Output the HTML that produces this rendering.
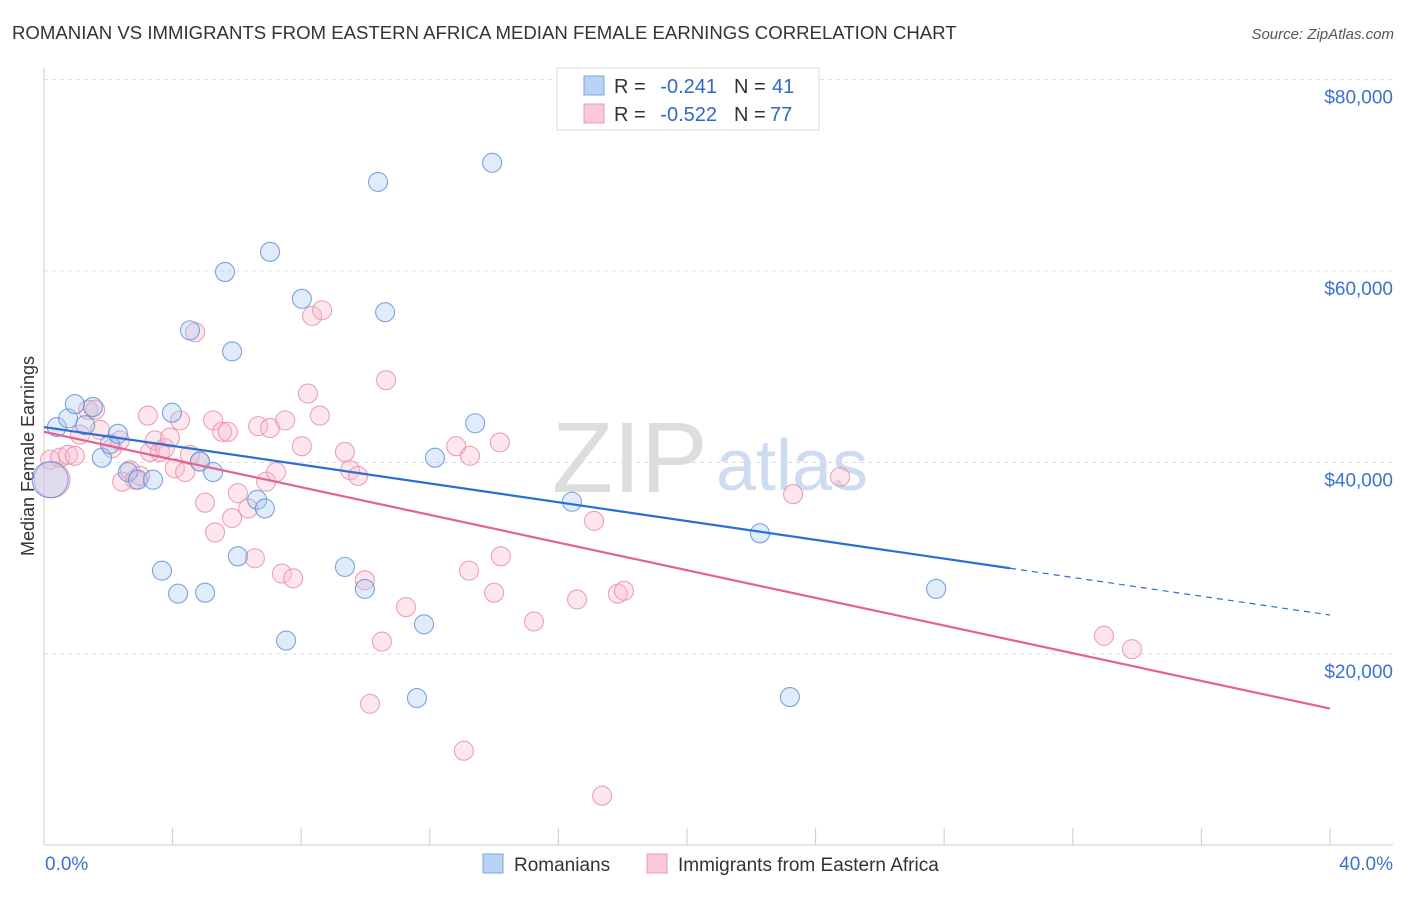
<!DOCTYPE html>
<html><head><meta charset="utf-8"><style>
body{margin:0;background:#fff;font-family:"Liberation Sans",sans-serif}
svg text{font-family:"Liberation Sans",sans-serif}
</style></head><body>
<svg id="c" width="1406" height="892" xmlns="http://www.w3.org/2000/svg">
<text x="12" y="39" font-size="18.6" fill="#333">ROMANIAN VS IMMIGRANTS FROM EASTERN AFRICA MEDIAN FEMALE EARNINGS CORRELATION CHART</text>
<text x="1394" y="39" font-size="15" fill="#555" text-anchor="end" font-style="italic">Source: ZipAtlas.com</text>
<text x="552" y="492" font-size="100" fill="#ddd" font-family="Liberation Serif,serif">ZIP</text>
<text x="716" y="490" font-size="72" fill="#cddcf0">atlas</text>
<text transform="translate(34,456) rotate(-90)" font-size="18" fill="#333" text-anchor="middle">Median Female Earnings</text>
<g id="grid"></g><g id="pts"></g><g id="lines"></g>
<g>
<rect x="557" y="68" width="262" height="62" fill="#fff" stroke="#ddd"/>
<rect x="584" y="76" width="20" height="19" fill="#b9d3f5" stroke="#7aa6e2"/>
<rect x="584" y="104" width="20" height="19" fill="#fbc8d7" stroke="#ee98b2"/>
<text x="614" y="93" font-size="20" fill="#333">R =</text>
<text x="717" y="93" font-size="20" fill="#3068c8" text-anchor="end">-0.241</text>
<text x="734" y="93" font-size="20" fill="#333">N =</text>
<text x="772" y="93" font-size="20" fill="#3068c8">41</text>
<text x="614" y="121" font-size="20" fill="#333">R =</text>
<text x="717" y="121" font-size="20" fill="#3068c8" text-anchor="end">-0.522</text>
<text x="734" y="121" font-size="20" fill="#333">N =</text>
<text x="770" y="121" font-size="20" fill="#3068c8">77</text>
</g>
<g>
<rect x="483" y="854" width="20" height="19" fill="#b9d3f5" stroke="#7aa6e2"/>
<text x="514" y="871" font-size="19" fill="#333">Romanians</text>
<rect x="647" y="854" width="20" height="19" fill="#fbc8d7" stroke="#ee98b2"/>
<text x="678" y="871" font-size="19" fill="#333">Immigrants from Eastern Africa</text>
</g>
</svg>
<script>
const blueX=[0.40,0.75,0.96,1.52,1.28,1.80,2.05,2.30,2.61,2.92,3.39,3.67,3.98,4.17,4.54,4.85,5.01,5.26,5.63,5.85,6.03,6.63,6.87,7.03,7.53,8.02,9.36,9.98,10.39,10.61,11.60,11.82,12.16,13.41,13.94,16.42,22.27,23.20,27.75,0.19];
const blueY=[43.7,44.6,46.1,45.8,43.9,40.5,41.9,43.0,39.0,38.2,38.2,28.7,45.2,26.3,53.8,40.1,26.4,39.0,59.9,51.6,30.2,36.1,35.2,62.0,21.4,57.1,29.1,26.8,69.3,55.7,15.4,23.1,40.5,44.1,71.3,35.9,32.6,15.5,26.8,38.2];
const pinkX=[0.19,0.50,0.75,0.96,1.12,1.37,1.59,1.74,2.12,2.36,2.43,2.67,2.83,2.99,3.23,3.30,3.45,3.61,3.76,3.92,4.07,4.23,4.39,4.54,4.70,4.85,5.01,5.26,5.32,5.54,5.72,5.85,6.03,6.35,6.56,6.66,6.91,7.03,7.22,7.40,7.50,7.75,8.02,8.21,8.34,8.58,8.65,9.36,9.52,9.77,9.98,10.14,10.51,10.64,11.26,12.82,13.06,13.22,13.25,14.00,14.18,14.21,15.24,16.58,17.11,17.36,17.85,18.04,23.30,24.76,32.97,33.84,0.25];
const pinkY=[40.3,40.5,40.8,40.7,42.9,45.5,45.5,43.4,41.5,42.3,38.0,39.2,38.2,38.6,44.9,41.1,42.3,41.1,41.5,42.6,39.4,44.4,39.0,40.8,53.6,40.1,35.8,44.4,32.7,43.2,43.2,34.2,36.8,35.2,30.0,43.8,38.0,43.6,39.0,28.4,44.4,27.9,41.7,47.2,55.3,44.9,55.9,41.1,39.2,38.6,27.7,14.8,21.3,48.6,24.9,41.7,9.9,28.7,40.7,26.4,42.1,30.2,23.4,25.7,33.9,5.2,26.3,26.6,36.7,38.5,21.9,20.5,38.2];
const blueTrend=[43.7,24.07], pinkTrend=[43.2,14.3];
const yTicks=[20,40,60,80];
const xTicks=[0,4,8,12,16,20,24,28,32,36,40];
const X=v=>44+v/40*1286, Y=v=>845.5-v*9.575;
const NS='http://www.w3.org/2000/svg';
function mk(t,a,p){const e=document.createElementNS(NS,t);for(const k in a)e.setAttribute(k,a[k]);p.appendChild(e);return e;}
const g=document.getElementById('grid');
yTicks.forEach(t=>{
 const l=mk('line',{x1:44,x2:1393,y1:Y(t),y2:Y(t),stroke:'#ddd','stroke-dasharray':'4,4'},g);
 
 
 const tx=mk('text',{x:1393,y:Y(t)+24,'font-size':19,fill:'#3a72d0','text-anchor':'end'},g);
 tx.textContent='$'+t+',000';
 
 
});
mk('line',{x1:44,x2:44,y1:68,y2:845,stroke:'#ccc'},g);
mk('line',{x1:44,x2:1393,y1:845,y2:845,stroke:'#ccc'},g);
xTicks.forEach(t=>{
 const l=mk('line',{x1:X(t),x2:X(t),y1:828,y2:845,stroke:'#ccc'},g);
 
 
});
[[0,'0.0%',45,'start'],[40,'40.0%',1393,'end']].forEach(d=>{
 const tx=mk('text',{x:d[2],y:870,'font-size':19,fill:'#3a72d0','text-anchor':d[3]},g);
 tx.textContent=d[1];
 
 
});
const p=document.getElementById('pts');
function pts(xs,ys,fill,stroke,name){
 xs.forEach((x,i)=>{
  const r=(i===xs.length-1)?18:9.5;
  const c=mk('circle',{cx:X(x),cy:Y(ys[i]),r:r,fill:fill,'fill-opacity':0.35,stroke:stroke,'stroke-opacity':0.8,'stroke-width':1.1},p);
  
  
 });
}
pts(pinkX,pinkY,'#f9b9cc','#ea8aa8','immigrants-point');
pts(blueX,blueY,'#a9c8f2','#5b8fd9','romanians-point');
const L=document.getElementById('lines');
const bAt=x=>blueTrend[0]+(blueTrend[1]-blueTrend[0])*x/40;
const pAt=x=>pinkTrend[0]+(pinkTrend[1]-pinkTrend[0])*x/40;
let l=mk('line',{x1:X(0),y1:Y(bAt(0)),x2:X(30.05),y2:Y(bAt(30.05)),stroke:'#2a6fd6','stroke-width':2.2},L);


l=mk('line',{x1:X(30.05),y1:Y(bAt(30.05)),x2:X(40),y2:Y(bAt(40)),stroke:'#2a6fd6','stroke-width':1.2,'stroke-dasharray':'6,5'},L);


l=mk('line',{x1:X(0),y1:Y(pAt(0)),x2:X(40),y2:Y(pAt(40)),stroke:'#e5628e','stroke-width':2.2},L);


</script>
</body></html>
